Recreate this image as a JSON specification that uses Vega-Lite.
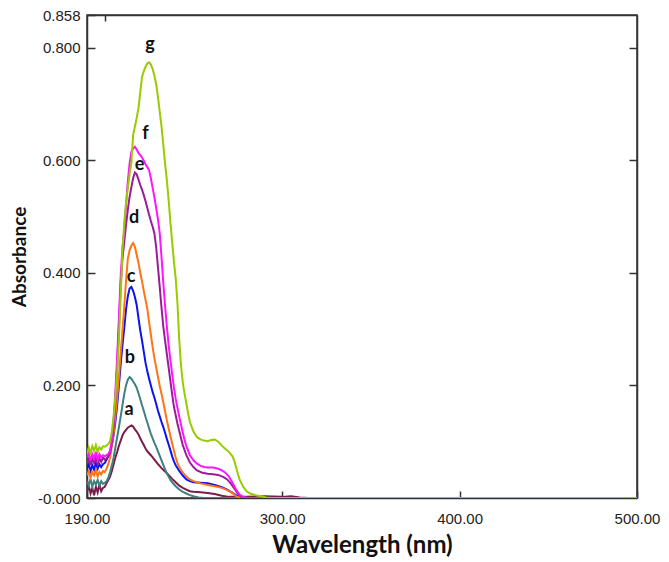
{
  "$schema": "https://vega.github.io/schema/vega-lite/v6.json",
  "width": 550,
  "height": 483,
  "autosize": "none",
  "padding": {"left": 87, "top": 15, "right": 32, "bottom": 64},
  "background": "white",
  "config": {
    "view": {"stroke": "#333333", "strokeWidth": 1.5},
    "axis": {
      "domainColor": "#333333",
      "domainWidth": 1.5,
      "tickColor": "#333333",
      "tickWidth": 1.5,
      "grid": false,
      "labelFont": "Liberation Sans",
      "labelFontSize": 15,
      "labelColor": "#222222",
      "labelFlush": false,
      "titleFont": "Lato",
      "titleFontWeight": "bold",
      "titleColor": "#111111"
    }
  },
  "datasets": {
    "spec": [
      {"s":"a","w":190,"y":0.010},{"s":"a","w":191,"y":0.022},{"s":"a","w":192,"y":0.008},{"s":"a","w":193,"y":0.018},{"s":"a","w":194,"y":0.005},{"s":"a","w":195,"y":0.020},{"s":"a","w":196,"y":0.010},{"s":"a","w":197,"y":0.024},{"s":"a","w":198,"y":0.012},{"s":"a","w":199,"y":0.018},{"s":"a","w":200,"y":0.020},{"s":"a","w":201,"y":0.026},{"s":"a","w":202,"y":0.032},{"s":"a","w":203,"y":0.038},{"s":"a","w":204,"y":0.048},{"s":"a","w":205,"y":0.060},{"s":"a","w":206,"y":0.072},{"s":"a","w":207,"y":0.082},{"s":"a","w":208,"y":0.093},{"s":"a","w":209,"y":0.102},{"s":"a","w":210,"y":0.111},{"s":"a","w":211,"y":0.117},{"s":"a","w":212,"y":0.121},{"s":"a","w":213,"y":0.125},{"s":"a","w":214,"y":0.127},{"s":"a","w":215,"y":0.129},{"s":"a","w":216,"y":0.127},{"s":"a","w":217,"y":0.122},{"s":"a","w":218,"y":0.118},{"s":"a","w":219,"y":0.113},{"s":"a","w":220,"y":0.106},{"s":"a","w":221,"y":0.100},{"s":"a","w":222,"y":0.094},{"s":"a","w":223,"y":0.088},{"s":"a","w":224,"y":0.083},{"s":"a","w":226,"y":0.076},{"s":"a","w":228,"y":0.068},{"s":"a","w":230,"y":0.060},{"s":"a","w":232,"y":0.053},{"s":"a","w":234,"y":0.047},{"s":"a","w":236,"y":0.041},{"s":"a","w":238,"y":0.034},{"s":"a","w":240,"y":0.028},{"s":"a","w":242,"y":0.022},{"s":"a","w":244,"y":0.018},{"s":"a","w":246,"y":0.015},{"s":"a","w":248,"y":0.012},{"s":"a","w":250,"y":0.011},{"s":"a","w":254,"y":0.010},{"s":"a","w":258,"y":0.009},{"s":"a","w":262,"y":0.007},{"s":"a","w":266,"y":0.004},{"s":"a","w":270,"y":0.002},{"s":"a","w":280,"y":0.002},{"s":"a","w":290,"y":0.003},{"s":"a","w":300,"y":0.002},{"s":"a","w":305,"y":0.003},{"s":"a","w":310,"y":0.001},{"s":"a","w":315,"y":0},{"s":"a","w":500,"y":0},
      {"s":"b","w":190,"y":0.030},{"s":"b","w":191,"y":0.022},{"s":"b","w":192,"y":0.034},{"s":"b","w":193,"y":0.020},{"s":"b","w":194,"y":0.030},{"s":"b","w":195,"y":0.024},{"s":"b","w":196,"y":0.032},{"s":"b","w":197,"y":0.022},{"s":"b","w":198,"y":0.030},{"s":"b","w":199,"y":0.025},{"s":"b","w":200,"y":0.027},{"s":"b","w":201,"y":0.030},{"s":"b","w":202,"y":0.036},{"s":"b","w":203,"y":0.046},{"s":"b","w":204,"y":0.058},{"s":"b","w":205,"y":0.072},{"s":"b","w":206,"y":0.090},{"s":"b","w":207,"y":0.108},{"s":"b","w":208,"y":0.126},{"s":"b","w":209,"y":0.145},{"s":"b","w":210,"y":0.165},{"s":"b","w":211,"y":0.185},{"s":"b","w":212,"y":0.200},{"s":"b","w":213,"y":0.210},{"s":"b","w":214,"y":0.215},{"s":"b","w":215,"y":0.212},{"s":"b","w":216,"y":0.207},{"s":"b","w":217,"y":0.202},{"s":"b","w":218,"y":0.196},{"s":"b","w":219,"y":0.186},{"s":"b","w":220,"y":0.176},{"s":"b","w":221,"y":0.165},{"s":"b","w":222,"y":0.155},{"s":"b","w":223,"y":0.144},{"s":"b","w":224,"y":0.134},{"s":"b","w":225,"y":0.124},{"s":"b","w":226,"y":0.114},{"s":"b","w":227,"y":0.106},{"s":"b","w":228,"y":0.098},{"s":"b","w":229,"y":0.091},{"s":"b","w":230,"y":0.083},{"s":"b","w":231,"y":0.075},{"s":"b","w":232,"y":0.067},{"s":"b","w":233,"y":0.059},{"s":"b","w":234,"y":0.051},{"s":"b","w":235,"y":0.044},{"s":"b","w":236,"y":0.038},{"s":"b","w":237,"y":0.032},{"s":"b","w":238,"y":0.028},{"s":"b","w":240,"y":0.021},{"s":"b","w":242,"y":0.015},{"s":"b","w":244,"y":0.011},{"s":"b","w":246,"y":0.008},{"s":"b","w":248,"y":0.005},{"s":"b","w":250,"y":0.003},{"s":"b","w":253,"y":0.001},{"s":"b","w":256,"y":0},{"s":"b","w":500,"y":0},
      {"s":"c","w":190,"y":0.052},{"s":"c","w":191,"y":0.060},{"s":"c","w":192,"y":0.048},{"s":"c","w":193,"y":0.058},{"s":"c","w":194,"y":0.050},{"s":"c","w":195,"y":0.062},{"s":"c","w":196,"y":0.052},{"s":"c","w":197,"y":0.060},{"s":"c","w":198,"y":0.055},{"s":"c","w":199,"y":0.060},{"s":"c","w":200,"y":0.062},{"s":"c","w":201,"y":0.068},{"s":"c","w":202,"y":0.075},{"s":"c","w":203,"y":0.083},{"s":"c","w":204,"y":0.094},{"s":"c","w":205,"y":0.112},{"s":"c","w":206,"y":0.135},{"s":"c","w":207,"y":0.165},{"s":"c","w":208,"y":0.200},{"s":"c","w":209,"y":0.238},{"s":"c","w":210,"y":0.272},{"s":"c","w":211,"y":0.302},{"s":"c","w":212,"y":0.335},{"s":"c","w":213,"y":0.358},{"s":"c","w":214,"y":0.372},{"s":"c","w":215,"y":0.375},{"s":"c","w":216,"y":0.368},{"s":"c","w":217,"y":0.357},{"s":"c","w":218,"y":0.343},{"s":"c","w":219,"y":0.320},{"s":"c","w":220,"y":0.298},{"s":"c","w":221,"y":0.280},{"s":"c","w":222,"y":0.260},{"s":"c","w":223,"y":0.240},{"s":"c","w":224,"y":0.225},{"s":"c","w":225,"y":0.212},{"s":"c","w":226,"y":0.200},{"s":"c","w":227,"y":0.188},{"s":"c","w":228,"y":0.178},{"s":"c","w":229,"y":0.167},{"s":"c","w":230,"y":0.155},{"s":"c","w":231,"y":0.145},{"s":"c","w":232,"y":0.135},{"s":"c","w":233,"y":0.126},{"s":"c","w":234,"y":0.116},{"s":"c","w":235,"y":0.105},{"s":"c","w":236,"y":0.095},{"s":"c","w":237,"y":0.085},{"s":"c","w":238,"y":0.074},{"s":"c","w":239,"y":0.065},{"s":"c","w":240,"y":0.058},{"s":"c","w":242,"y":0.048},{"s":"c","w":244,"y":0.040},{"s":"c","w":246,"y":0.033},{"s":"c","w":248,"y":0.030},{"s":"c","w":250,"y":0.028},{"s":"c","w":254,"y":0.027},{"s":"c","w":258,"y":0.026},{"s":"c","w":262,"y":0.023},{"s":"c","w":266,"y":0.019},{"s":"c","w":269,"y":0.015},{"s":"c","w":272,"y":0.009},{"s":"c","w":274,"y":0.005},{"s":"c","w":276,"y":0.002},{"s":"c","w":279,"y":0},{"s":"c","w":500,"y":0},
      {"s":"d","w":190,"y":0.040},{"s":"d","w":191,"y":0.048},{"s":"d","w":192,"y":0.036},{"s":"d","w":193,"y":0.046},{"s":"d","w":194,"y":0.040},{"s":"d","w":195,"y":0.050},{"s":"d","w":196,"y":0.038},{"s":"d","w":197,"y":0.046},{"s":"d","w":198,"y":0.042},{"s":"d","w":199,"y":0.048},{"s":"d","w":200,"y":0.046},{"s":"d","w":201,"y":0.052},{"s":"d","w":202,"y":0.060},{"s":"d","w":203,"y":0.072},{"s":"d","w":204,"y":0.092},{"s":"d","w":205,"y":0.115},{"s":"d","w":206,"y":0.145},{"s":"d","w":207,"y":0.178},{"s":"d","w":208,"y":0.215},{"s":"d","w":209,"y":0.258},{"s":"d","w":210,"y":0.298},{"s":"d","w":211,"y":0.340},{"s":"d","w":212,"y":0.385},{"s":"d","w":213,"y":0.425},{"s":"d","w":214,"y":0.440},{"s":"d","w":215,"y":0.448},{"s":"d","w":216,"y":0.453},{"s":"d","w":217,"y":0.446},{"s":"d","w":218,"y":0.432},{"s":"d","w":219,"y":0.418},{"s":"d","w":220,"y":0.400},{"s":"d","w":221,"y":0.385},{"s":"d","w":222,"y":0.368},{"s":"d","w":223,"y":0.352},{"s":"d","w":224,"y":0.336},{"s":"d","w":225,"y":0.312},{"s":"d","w":226,"y":0.290},{"s":"d","w":227,"y":0.268},{"s":"d","w":228,"y":0.248},{"s":"d","w":229,"y":0.232},{"s":"d","w":230,"y":0.215},{"s":"d","w":231,"y":0.199},{"s":"d","w":232,"y":0.185},{"s":"d","w":233,"y":0.170},{"s":"d","w":234,"y":0.154},{"s":"d","w":235,"y":0.138},{"s":"d","w":236,"y":0.124},{"s":"d","w":237,"y":0.110},{"s":"d","w":238,"y":0.097},{"s":"d","w":239,"y":0.084},{"s":"d","w":240,"y":0.072},{"s":"d","w":241,"y":0.062},{"s":"d","w":242,"y":0.055},{"s":"d","w":244,"y":0.045},{"s":"d","w":246,"y":0.038},{"s":"d","w":248,"y":0.033},{"s":"d","w":250,"y":0.030},{"s":"d","w":254,"y":0.026},{"s":"d","w":258,"y":0.023},{"s":"d","w":262,"y":0.021},{"s":"d","w":266,"y":0.018},{"s":"d","w":269,"y":0.014},{"s":"d","w":272,"y":0.009},{"s":"d","w":274,"y":0.003},{"s":"d","w":277,"y":0},{"s":"d","w":500,"y":0},
      {"s":"e","w":190,"y":0.060},{"s":"e","w":191,"y":0.072},{"s":"e","w":192,"y":0.058},{"s":"e","w":193,"y":0.070},{"s":"e","w":194,"y":0.062},{"s":"e","w":195,"y":0.074},{"s":"e","w":196,"y":0.060},{"s":"e","w":197,"y":0.070},{"s":"e","w":198,"y":0.064},{"s":"e","w":199,"y":0.072},{"s":"e","w":200,"y":0.068},{"s":"e","w":201,"y":0.070},{"s":"e","w":202,"y":0.074},{"s":"e","w":203,"y":0.080},{"s":"e","w":204,"y":0.098},{"s":"e","w":205,"y":0.128},{"s":"e","w":206,"y":0.175},{"s":"e","w":207,"y":0.235},{"s":"e","w":208,"y":0.305},{"s":"e","w":209,"y":0.380},{"s":"e","w":210,"y":0.425},{"s":"e","w":211,"y":0.455},{"s":"e","w":212,"y":0.485},{"s":"e","w":213,"y":0.512},{"s":"e","w":214,"y":0.535},{"s":"e","w":215,"y":0.552},{"s":"e","w":216,"y":0.568},{"s":"e","w":217,"y":0.578},{"s":"e","w":218,"y":0.575},{"s":"e","w":219,"y":0.566},{"s":"e","w":220,"y":0.556},{"s":"e","w":221,"y":0.548},{"s":"e","w":222,"y":0.538},{"s":"e","w":223,"y":0.527},{"s":"e","w":224,"y":0.515},{"s":"e","w":225,"y":0.503},{"s":"e","w":226,"y":0.492},{"s":"e","w":227,"y":0.482},{"s":"e","w":228,"y":0.470},{"s":"e","w":229,"y":0.445},{"s":"e","w":230,"y":0.410},{"s":"e","w":231,"y":0.375},{"s":"e","w":232,"y":0.338},{"s":"e","w":233,"y":0.305},{"s":"e","w":234,"y":0.280},{"s":"e","w":235,"y":0.256},{"s":"e","w":236,"y":0.232},{"s":"e","w":237,"y":0.208},{"s":"e","w":238,"y":0.184},{"s":"e","w":239,"y":0.162},{"s":"e","w":240,"y":0.147},{"s":"e","w":241,"y":0.132},{"s":"e","w":242,"y":0.119},{"s":"e","w":243,"y":0.106},{"s":"e","w":244,"y":0.094},{"s":"e","w":246,"y":0.076},{"s":"e","w":248,"y":0.063},{"s":"e","w":250,"y":0.055},{"s":"e","w":252,"y":0.049},{"s":"e","w":255,"y":0.045},{"s":"e","w":258,"y":0.043},{"s":"e","w":261,"y":0.042},{"s":"e","w":264,"y":0.041},{"s":"e","w":267,"y":0.037},{"s":"e","w":269,"y":0.033},{"s":"e","w":271,"y":0.026},{"s":"e","w":273,"y":0.017},{"s":"e","w":275,"y":0.008},{"s":"e","w":277,"y":0.002},{"s":"e","w":280,"y":0},{"s":"e","w":500,"y":0},
      {"s":"f","w":190,"y":0.072},{"s":"f","w":191,"y":0.080},{"s":"f","w":192,"y":0.066},{"s":"f","w":193,"y":0.078},{"s":"f","w":194,"y":0.070},{"s":"f","w":195,"y":0.082},{"s":"f","w":196,"y":0.068},{"s":"f","w":197,"y":0.078},{"s":"f","w":198,"y":0.072},{"s":"f","w":199,"y":0.076},{"s":"f","w":200,"y":0.074},{"s":"f","w":201,"y":0.076},{"s":"f","w":202,"y":0.078},{"s":"f","w":203,"y":0.084},{"s":"f","w":204,"y":0.105},{"s":"f","w":205,"y":0.138},{"s":"f","w":206,"y":0.188},{"s":"f","w":207,"y":0.250},{"s":"f","w":208,"y":0.320},{"s":"f","w":209,"y":0.395},{"s":"f","w":210,"y":0.445},{"s":"f","w":211,"y":0.475},{"s":"f","w":212,"y":0.520},{"s":"f","w":213,"y":0.562},{"s":"f","w":214,"y":0.594},{"s":"f","w":215,"y":0.615},{"s":"f","w":216,"y":0.621},{"s":"f","w":217,"y":0.624},{"s":"f","w":218,"y":0.619},{"s":"f","w":219,"y":0.613},{"s":"f","w":220,"y":0.609},{"s":"f","w":221,"y":0.605},{"s":"f","w":222,"y":0.599},{"s":"f","w":223,"y":0.593},{"s":"f","w":224,"y":0.588},{"s":"f","w":225,"y":0.582},{"s":"f","w":226,"y":0.568},{"s":"f","w":227,"y":0.551},{"s":"f","w":228,"y":0.534},{"s":"f","w":229,"y":0.515},{"s":"f","w":230,"y":0.495},{"s":"f","w":231,"y":0.470},{"s":"f","w":232,"y":0.428},{"s":"f","w":233,"y":0.382},{"s":"f","w":234,"y":0.342},{"s":"f","w":235,"y":0.305},{"s":"f","w":236,"y":0.272},{"s":"f","w":237,"y":0.245},{"s":"f","w":238,"y":0.220},{"s":"f","w":239,"y":0.196},{"s":"f","w":240,"y":0.176},{"s":"f","w":241,"y":0.160},{"s":"f","w":242,"y":0.145},{"s":"f","w":243,"y":0.130},{"s":"f","w":244,"y":0.116},{"s":"f","w":245,"y":0.103},{"s":"f","w":246,"y":0.092},{"s":"f","w":248,"y":0.076},{"s":"f","w":250,"y":0.067},{"s":"f","w":252,"y":0.061},{"s":"f","w":254,"y":0.057},{"s":"f","w":256,"y":0.055},{"s":"f","w":258,"y":0.054},{"s":"f","w":261,"y":0.054},{"s":"f","w":264,"y":0.052},{"s":"f","w":266,"y":0.049},{"s":"f","w":268,"y":0.045},{"s":"f","w":270,"y":0.038},{"s":"f","w":272,"y":0.027},{"s":"f","w":274,"y":0.015},{"s":"f","w":276,"y":0.006},{"s":"f","w":278,"y":0.002},{"s":"f","w":281,"y":0},{"s":"f","w":500,"y":0},
      {"s":"g","w":190,"y":0.078},{"s":"g","w":191,"y":0.090},{"s":"g","w":192,"y":0.080},{"s":"g","w":193,"y":0.092},{"s":"g","w":194,"y":0.084},{"s":"g","w":195,"y":0.094},{"s":"g","w":196,"y":0.082},{"s":"g","w":197,"y":0.090},{"s":"g","w":198,"y":0.086},{"s":"g","w":199,"y":0.092},{"s":"g","w":200,"y":0.091},{"s":"g","w":201,"y":0.093},{"s":"g","w":202,"y":0.096},{"s":"g","w":203,"y":0.101},{"s":"g","w":204,"y":0.118},{"s":"g","w":205,"y":0.145},{"s":"g","w":206,"y":0.180},{"s":"g","w":207,"y":0.222},{"s":"g","w":208,"y":0.280},{"s":"g","w":209,"y":0.360},{"s":"g","w":210,"y":0.440},{"s":"g","w":211,"y":0.490},{"s":"g","w":212,"y":0.525},{"s":"g","w":213,"y":0.550},{"s":"g","w":214,"y":0.575},{"s":"g","w":215,"y":0.595},{"s":"g","w":216,"y":0.645},{"s":"g","w":217,"y":0.660},{"s":"g","w":218,"y":0.675},{"s":"g","w":219,"y":0.692},{"s":"g","w":220,"y":0.720},{"s":"g","w":221,"y":0.748},{"s":"g","w":222,"y":0.758},{"s":"g","w":223,"y":0.766},{"s":"g","w":224,"y":0.772},{"s":"g","w":225,"y":0.774},{"s":"g","w":226,"y":0.770},{"s":"g","w":227,"y":0.762},{"s":"g","w":228,"y":0.750},{"s":"g","w":229,"y":0.735},{"s":"g","w":230,"y":0.712},{"s":"g","w":231,"y":0.686},{"s":"g","w":232,"y":0.660},{"s":"g","w":233,"y":0.628},{"s":"g","w":234,"y":0.594},{"s":"g","w":235,"y":0.565},{"s":"g","w":236,"y":0.530},{"s":"g","w":237,"y":0.490},{"s":"g","w":238,"y":0.455},{"s":"g","w":239,"y":0.420},{"s":"g","w":240,"y":0.390},{"s":"g","w":241,"y":0.345},{"s":"g","w":242,"y":0.280},{"s":"g","w":243,"y":0.235},{"s":"g","w":244,"y":0.205},{"s":"g","w":245,"y":0.185},{"s":"g","w":246,"y":0.168},{"s":"g","w":247,"y":0.150},{"s":"g","w":248,"y":0.135},{"s":"g","w":250,"y":0.118},{"s":"g","w":252,"y":0.108},{"s":"g","w":254,"y":0.104},{"s":"g","w":256,"y":0.102},{"s":"g","w":258,"y":0.101},{"s":"g","w":260,"y":0.103},{"s":"g","w":262,"y":0.104},{"s":"g","w":264,"y":0.100},{"s":"g","w":266,"y":0.093},{"s":"g","w":268,"y":0.087},{"s":"g","w":270,"y":0.082},{"s":"g","w":272,"y":0.074},{"s":"g","w":273,"y":0.066},{"s":"g","w":274,"y":0.055},{"s":"g","w":275,"y":0.043},{"s":"g","w":276,"y":0.033},{"s":"g","w":278,"y":0.020},{"s":"g","w":280,"y":0.012},{"s":"g","w":282,"y":0.008},{"s":"g","w":285,"y":0.005},{"s":"g","w":288,"y":0.003},{"s":"g","w":291,"y":0.001},{"s":"g","w":294,"y":0},{"s":"g","w":500,"y":0}
    ],
    "lab": [
      {"t":"a","w":213.7,"y":0.156},
      {"t":"b","w":214.2,"y":0.248},
      {"t":"c","w":214.8,"y":0.392},
      {"t":"d","w":216.5,"y":0.497},
      {"t":"e","w":219.6,"y":0.591},
      {"t":"f","w":223.0,"y":0.647},
      {"t":"g","w":225.5,"y":0.804}
    ]
  },
  "resolve": {"axis": {"x": "independent", "y": "independent"}},
  "layer": [
    {
      "data": {"name": "spec"},
      "mark": {"type": "line", "strokeWidth": 2, "clip": true},
      "encoding": {
        "x": {
          "field": "w", "type": "quantitative",
          "scale": {"domain": [190, 500], "nice": false, "zero": false},
          "axis": {
            "orient": "bottom", "values": [190, 300, 400, 500], "format": ".2f",
            "tickSize": -7, "labelPadding": 20, "title": "Wavelength (nm)", "titlePadding": 7,
            "titleFontSize": 24
          }
        },
        "y": {
          "field": "y", "type": "quantitative",
          "scale": {"domain": [0, 0.858], "nice": false, "zero": false},
          "axis": {
            "orient": "left", "values": [0, 0.2, 0.4, 0.6, 0.8, 0.858],
            "labelExpr": "datum.value == 0 ? '-0.000' : format(datum.value, '.3f')",
            "tickSize": -8, "labelPadding": 15, "title": "Absorbance", "titlePadding": 8,
            "titleFontSize": 19
          }
        },
        "color": {
          "field": "s", "type": "nominal",
          "scale": {"domain": ["a","b","c","d","e","f","g"], "range": ["#7B1C4B","#3F8080","#0A14F0","#FF7414","#9A1C9A","#FF14FF","#98CC00"]},
          "legend": null
        },
        "order": {"field": "w", "type": "quantitative"}
      }
    },
    {
      "data": {"name": "lab"},
      "mark": {"type": "text", "font": "Lato", "fontWeight": "bold", "fontSize": 18, "color": "#111111", "align": "center", "baseline": "middle"},
      "encoding": {
        "x": {
          "field": "w", "type": "quantitative",
          "axis": {"orient": "top", "values": [200], "labels": false, "tickSize": -6, "title": null}
        },
        "y": {
          "field": "y", "type": "quantitative",
          "axis": {"orient": "right", "values": [0.2, 0.4, 0.6, 0.8], "labels": false, "tickSize": -8, "title": null}
        },
        "text": {"field": "t"}
      }
    }
  ]
}
